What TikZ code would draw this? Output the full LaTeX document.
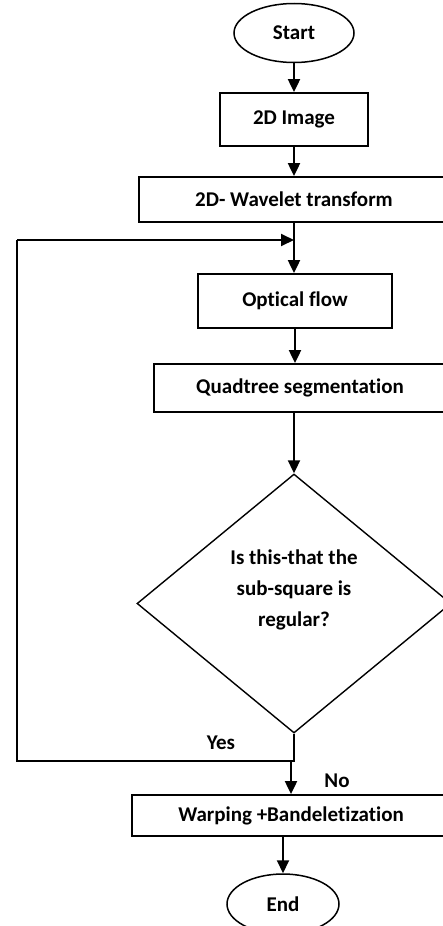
\documentclass[tikz,border=0pt]{standalone}
\usepackage{fontspec}
\setmainfont{Carlito}[Ligatures=CommonOff]
\usepackage{tikz}
\usetikzlibrary{arrows.meta,shapes,positioning,calc}

\begin{document}
\begin{tikzpicture}[x=1pt,y=-1pt,every node/.style={font=\fontsize{21}{31}\selectfont\bfseries},>={Triangle[length=13pt,width=12pt]},
  term/.style={draw,ellipse,line width=1.5pt,inner sep=0pt},
  box/.style={draw,rectangle,line width=1.8pt,inner sep=0pt},
  flow/.style={line width=2pt}]
\useasboundingbox (0,0) rectangle (443,926);
\clip (0,0) rectangle (443,926);
\node[term,minimum width=120pt,minimum height=59pt] (start) at (294,33) {Start};
\node[box,minimum width=148pt,minimum height=53pt] (img) at (294,119.5) {2D Image};
\node[box,minimum width=310pt,minimum height=45pt] (wav) at (294,199.5) {2D- Wavelet transform};
\node[box,minimum width=194pt,minimum height=54pt] (opt) at (295,301) {Optical flow};
\node[box,minimum width=292pt,minimum height=48pt] (quad) at (300,388) {Quadtree segmentation};
\node[draw,diamond,line width=1.4pt,inner sep=0pt,minimum width=314pt,minimum height=259pt] (dia) at (294,603.5) {};
\node[align=center] (qtext) at (294,590) {Is this-that the\\sub-square is\\regular?};
\node[box,minimum width=318pt,minimum height=41pt] (warp) at (291,815.5) {Warping +Bandeletization};
\node[term,minimum width=112pt,minimum height=60pt] (end) at (283,904) {End};
\node (yes) at (221,743) {Yes};
\node (no) at (337,781) {No};
\coordinate (jn) at (291,761);
\coordinate (lb) at (17,761);
\coordinate (lt) at (17,240);
\coordinate (lj) at (294,240);
\draw[flow,->] (start) -- (img);
\draw[flow,->] (img) -- (wav);
\draw[flow,->] (lj |- wav.south) -- (lj |- opt.north);
\draw[flow,->] (opt.south) -- (opt.south |- quad.north);
\draw[flow,->] (quad.south -| dia) -- (dia.north);
\draw[flow] (dia.south) -- (dia.south |- jn) -- (jn);
\draw[flow,->] (jn) -- (jn |- warp.north);
\draw[flow] (jn) -- (lb) -- (lt);
\draw[flow,->] (lt) -- (lj);
\draw[flow,->] (warp.south -| end) -- (end);
\end{tikzpicture}
\end{document}
